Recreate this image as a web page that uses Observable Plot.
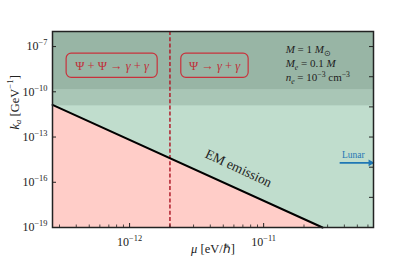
<!DOCTYPE html>
<html><head><meta charset="utf-8">
<script src="https://cdn.jsdelivr.net/npm/d3@7"></script>
<script src="https://cdn.jsdelivr.net/npm/@observablehq/plot@0.6"></script>
<style>html,body{margin:0;padding:0;background:#fff;} svg{display:block;}</style>
</head><body><div id="chart"></div>
<script>
// Axis domains
const xDomain = [2.66e-13, 6.6e-11];
const yDomain = [1e-19, 1e-6];
// Ticks
const xMajor = [1e-12, 1e-11];
const xMinor = [3e-13,4e-13,5e-13,6e-13,7e-13,8e-13,9e-13,2e-12,3e-12,4e-12,5e-12,6e-12,7e-12,8e-12,9e-12,2e-11,3e-11,4e-11,5e-11,6e-11];
const yMajor = [1e-7, 1e-10, 1e-13, 1e-16, 1e-19];
const yRight = [1e-7, 1e-9, 1e-11, 1e-13, 1e-15, 1e-17];
// EM emission bound line
const muLine = [2.66e-13, 2.75e-11];
const kLine = [1.35e-11, 1e-19];
// horizontal bands
const bandBottom = [1.17e-11, 1.35e-10];
const bandTop = [1.35e-10, 1e-6];
const bandColor = ["#a9c6b6", "#98b5a5"];
// vertical threshold
const muThreshold = [2e-12];
// process boxes
const boxLabels = ["Ψ + Ψ → *γ* + *γ*", "Ψ → *γ* + *γ*"];
const boxX1 = [3.39e-13, 2.43e-12];
const boxX2 = [1.62e-12, 7.73e-12];
const boxY1 = [8.5e-10];
const boxY2 = [3.4e-8];
const boxCx = [7.4e-13, 4.3e-12];
const boxCy = 5.4e-9;
// parameter annotation
const paramLines = ["*M* = 1 *M*_{⊙}", "*M*_i{e} = 0.1 *M*", "*n*_i{e} = 10^{−3} cm^{−3}"];
const paramY = [6.2e-8, 7.4e-9, 8.5e-10];
const paramX = 1.46e-11;
// lunar arrow
const lunarX1 = 3.69e-11, lunarX2 = 6.6e-11, lunarY = 1.94e-15;
const lunarLabelX = 4.66e-11, lunarLabelY = 6.3e-15;
// EM emission label
const emX = 6.5e-12, emY = 8.5e-16;

const lineData = muLine.map((m, i) => ({mu: m, k: kLine[i]}));
const bands = bandBottom.map((b, i) => ({y1: b, y2: bandTop[i], c: bandColor[i]}));
const boxes = boxLabels.map((l, i) => ({l, x1: boxX1[i], x2: boxX2[i], y1: boxY1[0], y2: boxY2[0], cx: boxCx[i]}));
const params = paramLines.map((l, i) => ({l, y: paramY[i]}));
const expFmt = d => "10^{−" + Math.round(-Math.log10(d)) + "}";

const plot = Plot.plot({
  width: 415, height: 260,
  marginLeft: 52, marginRight: 42, marginTop: 31, marginBottom: 33,
  style: {fontFamily: "'Liberation Serif', serif", fontSize: "12px", background: "#fff", color: "#222"},
  x: {type: "log", domain: xDomain},
  y: {type: "log", domain: yDomain},
  marks: [
    Plot.frame({fill: "#c0ddcd"}),
    Plot.areaY(lineData, {x: "mu", y1: () => yDomain[0], y2: "k", fill: "#ffcdc8"}),
    Plot.rect(bands, {x1: () => xDomain[0], x2: () => xDomain[1], y1: "y1", y2: "y2", fill: "c"}),
    Plot.ruleX(muThreshold, {stroke: "#b01e2c", strokeWidth: 1.5, strokeDasharray: "4,2.2"}),
    Plot.line(lineData, {x: "mu", y: "k", stroke: "#000", strokeWidth: 2}),
    Plot.rect(boxes, {x1: "x1", x2: "x2", y1: "y1", y2: "y2", stroke: "#c8323c", strokeWidth: 1.2, fill: "none", rx: 5}),
    Plot.text(boxes, {x: "cx", y: () => boxCy, text: "l", fill: "#c0303a", fontSize: 12.5}),
    Plot.text(params, {x: () => paramX, y: "y", text: "l", textAnchor: "start", fill: "#222", fontSize: 11}),
    Plot.text(["EM emission"], {x: () => emX, y: () => emY, text: d => d, rotate: 25, fontSize: 13.5, fill: "#222"}),
    Plot.link([0], {x1: () => lunarX1, x2: () => lunarX2, y1: () => lunarY, y2: () => lunarY, stroke: "#1f77b4", strokeWidth: 1.6}),
    Plot.dot([0], {x: () => lunarX2, y: () => lunarY, symbol: "triangle2", rotate: 90, r: 3.2, fill: "#1f77b4", dx: -3}),
    Plot.text(["Lunar"], {x: () => lunarLabelX, y: () => lunarLabelY, text: d => d, fill: "#1f77b4", fontSize: 9.5}),
    Plot.tickY(yMajor, {y: d => d, insetRight: 317, stroke: "#222"}),
    Plot.tickY(yRight, {y: d => d, insetLeft: 317, stroke: "#222"}),
    Plot.tickX(xMajor, {x: d => d, insetTop: 192, stroke: "#222"}),
    Plot.tickX(xMinor, {x: d => d, insetTop: 193.5, stroke: "#222", strokeWidth: 0.8}),
    Plot.axisX({ticks: xMajor, tickSize: 0, tickPadding: 10, tickFormat: expFmt, fontSize: 12}),
    Plot.axisY({ticks: yMajor, tickSize: 0, tickPadding: 5, tickFormat: expFmt, fontSize: 12}),
    Plot.text(["*k*_i{a} [GeV^{−1}]"], {frameAnchor: "left", dx: -38, rotate: -90, text: d => d, fontSize: 12.5, fill: "#222"}),
    Plot.text(["*μ* [eV/ℏ]"], {frameAnchor: "bottom", dy: 25, text: d => d, fontSize: 12.5, fill: "#222"}),
    Plot.frame({stroke: "#222", strokeWidth: 1.5})
  ]
});
document.getElementById("chart").appendChild(plot);

// Convert simple markup into tspans (super/subscripts, italics)
d3.select(plot).selectAll("text").each(function() {
  const el = this;
  const s = el.textContent;
  if (!/[\^_]i?\{|\*/.test(s)) return;
  const fs = parseFloat(getComputedStyle(el).fontSize) || 12;
  while (el.firstChild) el.removeChild(el.firstChild);
  const re = /\^\{([^}]*)\}|_(i?)\{([^}]*)\}|\*([^*]*)\*|([^\^_*]+)/g;
  let m, cur = 0;
  while ((m = re.exec(s))) {
    const ts = document.createElementNS("http://www.w3.org/2000/svg", "tspan");
    let target = 0, txt, italic = false, small = false;
    if (m[1] !== undefined) { txt = m[1]; target = -0.42 * fs; small = true; }
    else if (m[3] !== undefined) { txt = m[3]; target = 0.22 * fs; small = true; italic = m[2] === "i"; }
    else if (m[4] !== undefined) { txt = m[4]; italic = true; }
    else txt = m[5];
    ts.textContent = txt;
    if (small) ts.setAttribute("font-size", (0.7 * fs) + "px");
    if (italic) ts.setAttribute("font-style", "italic");
    if (target !== cur) ts.setAttribute("dy", (target - cur) + "px");
    cur = target;
    el.appendChild(ts);
  }
});
</script></body></html>
